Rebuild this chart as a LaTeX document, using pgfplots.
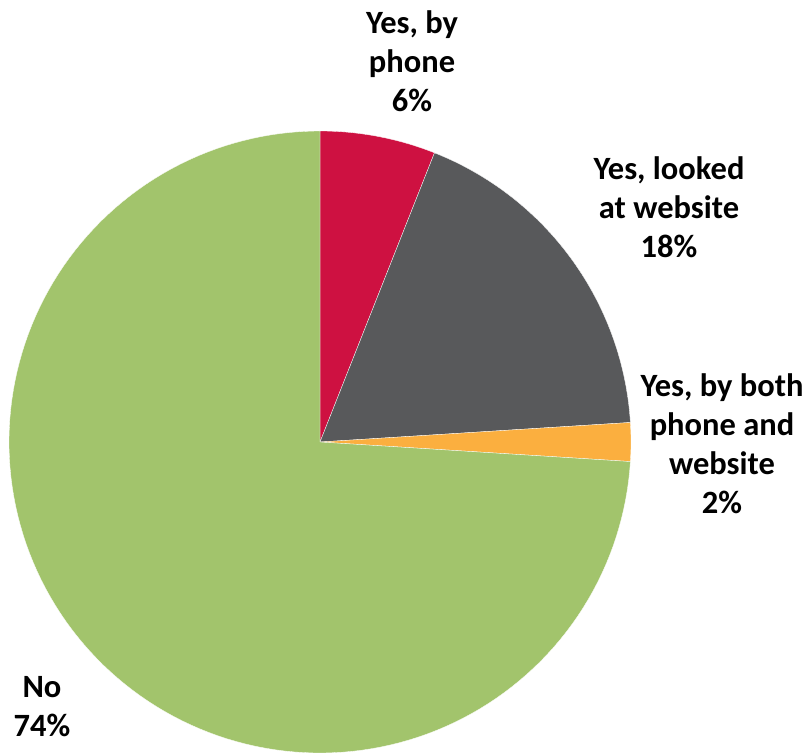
\documentclass[border=0pt]{standalone}
\usepackage{fontspec}
\setmainfont{Carlito}
\usepackage{pgfplots}
\pgfplotsset{compat=1.18}
\definecolor{cred}{HTML}{CE1141}
\definecolor{cgray}{HTML}{58595B}
\definecolor{corange}{HTML}{FBAF3F}
\definecolor{cgreen}{HTML}{A2C46C}
\tikzset{lbl/.style={font=\fontsize{32.5}{39}\selectfont\bfseries, align=center, text=black, inner sep=0pt}}
% shares (percent): phone 6, website 18, both 2, no 74 -> angles clockwise from 90 deg
\begin{document}
\begin{tikzpicture}
\begin{axis}[
  hide axis, scale only axis, clip=false,
  width=808pt, height=751pt,
  xmin=0, xmax=808, ymin=0, ymax=751,
  samples=60,
]
\path (axis cs:0,0) rectangle (axis cs:808,751);
% Yes, by phone 6%: 90 -> 68.4
\addplot[fill=cred, draw=white, line width=0.3pt, domain=68.4:90, variable=\t]
  ({320+311*cos(\t)},{309+311*sin(\t)}) -- (axis cs:320,309) -- cycle;
% Yes, looked at website 18%: 68.4 -> 3.6
\addplot[fill=cgray, draw=white, line width=0.3pt, domain=3.6:68.4, variable=\t]
  ({320+311*cos(\t)},{309+311*sin(\t)}) -- (axis cs:320,309) -- cycle;
% Yes, by both 2%: 3.6 -> -3.6
\addplot[fill=corange, draw=white, line width=0.3pt, domain=-3.6:3.6, samples=10, variable=\t]
  ({320+311*cos(\t)},{309+311*sin(\t)}) -- (axis cs:320,309) -- cycle;
% No 74%: -3.6 -> -270
\addplot[fill=cgreen, draw=white, line width=0.3pt, domain=-270:-3.6, samples=150, variable=\t]
  ({320+311*cos(\t)},{309+311*sin(\t)}) -- (axis cs:320,309) -- cycle;
\node[lbl] at (axis cs:412,690) {Yes, by\\phone\\6\%};
\node[lbl] at (axis cs:669,544) {Yes, looked\\at website\\18\%};
\node[lbl] at (axis cs:722,307) {Yes, by both\\phone and\\website\\2\%};
\node[lbl] at (axis cs:42,44) {No\\74\%};
\end{axis}
\end{tikzpicture}
\end{document}
